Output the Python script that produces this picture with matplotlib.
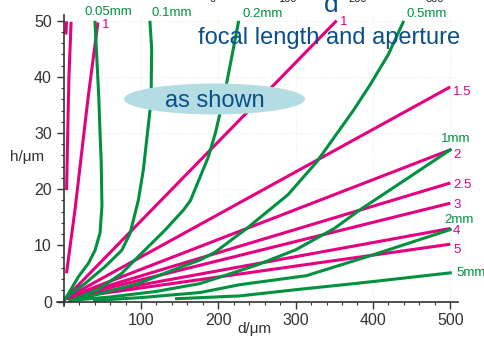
import matplotlib
matplotlib.use("Agg")
import matplotlib.pyplot as plt
from matplotlib.patches import Ellipse
from matplotlib.ticker import MultipleLocator

plt.rcParams['font.family'] = ['Liberation Sans', 'DejaVu Sans']

PINK = '#e4007f'
GREEN = '#009140'
BLUE = '#0b4f8a'

# ---- pink lines (aperture values) : end point (d, h); start near origin ----
pink_labels = ['1', '1.5', '2', '2.5', '3', '4', '5']
pink_end_d = [353, 500, 500, 500, 500, 500, 500]
pink_end_h = [50.0, 38.2, 27.0, 21.1, 17.5, 13.0, 10.2]
pink_start = (1.7, 0.5)

# steep pink curves at the left
pinkA_d = [3.8, 5.2, 6.8, 9.5]
pinkA_h = [20.1, 30.0, 40.0, 49.5]
pinkA2_d = [3.0, 3.6]
pinkA2_h = [47.8, 49.6]
pinkB_d = [3.9, 14.6, 31.4, 44.0]
pinkB_h = [5.3, 16.3, 36.1, 49.4]

# ---- green curves (focal lengths) ----
g005_d = [1.5, 10, 19, 32, 40.5, 47, 49.5, 48.5, 47, 45.5, 43, 40.5]
g005_h = [0.3, 2.3, 4.4, 6.8, 9.1, 12.2, 17, 25, 30, 36, 43, 49.7]
g01_d = [2, 27.6, 53.4, 75, 85.8, 96.5, 103, 111.6, 113, 113.8, 111.6]
g01_h = [0.6, 3.2, 6.2, 9.1, 12.1, 18, 23.4, 34, 36, 45, 49.7]
g02_d = [12, 45, 75, 96.5, 131, 155, 164, 187, 196, 200, 209, 226]
g02_h = [0.3, 2.2, 5.0, 8.0, 12.7, 16.3, 18, 25.7, 29.9, 32.2, 37.6, 49.7]
g05_d = [10, 31.8, 96.5, 152.6, 176.5, 196, 236.7, 290, 327, 374.6, 396, 420, 439]
g05_h = [0.2, 0.85, 3.2, 6.2, 7.4, 8.8, 13, 19, 24.8, 34, 38.5, 44, 49.7]
g1_d = [8, 60, 120, 176.5, 250, 300, 350, 383, 440, 500]
g1_h = [0.2, 0.8, 1.8, 3.2, 6.5, 9.2, 13, 16.3, 21.5, 27]
g2_d = [40, 100, 176.5, 228, 314, 400, 500]
g2_h = [0.2, 0.7, 1.6, 3.0, 4.6, 8.3, 12.8]
g5_d = [146, 228, 300, 383.6, 500]
g5_h = [0.5, 1.0, 2.1, 3.3, 5.1]

green_labels = ['0.05mm', '0.1mm', '0.2mm', '0.5mm', '1mm', '2mm', '5mm']

fig = plt.figure(figsize=(4.85, 3.38), dpi=100)
ax = fig.add_axes([57.5 / 485, 1 - 306 / 338, 400.5 / 485, 291 / 338])
ax.set_xlim(-8, 510)
ax.set_ylim(-0.8, 51)

lw = 2.2
for ed, eh in zip(pink_end_d, pink_end_h):
    ax.plot([pink_start[0], ed], [pink_start[1], eh], color=PINK, lw=lw, solid_capstyle='butt')
ax.plot(pinkA_d, pinkA_h, color=PINK, lw=lw)
ax.plot(pinkA2_d, pinkA2_h, color=PINK, lw=lw)
ax.plot(pinkB_d, pinkB_h, color=PINK, lw=lw)

for dd, hh in [(g005_d, g005_h), (g01_d, g01_h), (g02_d, g02_h), (g05_d, g05_h),
               (g1_d, g1_h), (g2_d, g2_h), (g5_d, g5_h)]:
    ax.plot(dd, hh, color=GREEN, lw=lw)

# spines Maple-like
for s in ['top', 'right']:
    ax.spines[s].set_visible(False)
ax.spines['left'].set_position(('data', 0))
ax.spines['bottom'].set_position(('data', 0))
for s in ['left', 'bottom']:
    ax.spines[s].set_color('#333333')
    ax.spines[s].set_linewidth(1.2)
ax.xaxis.set_major_locator(MultipleLocator(100))
ax.xaxis.set_minor_locator(MultipleLocator(20))
ax.yaxis.set_major_locator(MultipleLocator(10))
ax.yaxis.set_minor_locator(MultipleLocator(2))
ax.tick_params(which='major', length=5, width=1.0, color='#333333', labelsize=11.5, labelcolor='#333333')
ax.tick_params(which='minor', length=2.5, width=0.8, color='#333333')
ax.set_xticks([100, 200, 300, 400, 500])
ax.set_yticks([0, 10, 20, 30, 40, 50])
ax.grid(True, which='major', color='#e6e6e6', linestyle=':', linewidth=0.6)

fig.text(10 / 485, 1 - 157 / 338, 'h/\u03bcm', fontsize=11, color='#333333', va='center', ha='left')
fig.text(254 / 485, 1 - 329 / 338, 'd/\u03bcm', fontsize=11, color='#333333', va='center', ha='center')

# curve labels
lab_fs = 9.5
gpos = [(85, 12), (152, 13), (243, 14), (407, 14), (441, 139), (444, 220), (456, 273)]
for t, (x, y) in zip(green_labels, gpos):
    fig.text(x / 485, 1 - y / 338, t, fontsize=lab_fs, color=GREEN, ha='left', va='center')
ppos = [(340, 22), (453, 92), (453, 155), (453, 185), (453, 205), (453, 231), (453, 250)]
for t, (x, y) in zip(pink_labels, ppos):
    fig.text(x / 485, 1 - y / 338, t, fontsize=lab_fs, color=PINK, ha='left', va='center')
fig.text(102 / 485, 1 - 25 / 338, '1', fontsize=lab_fs, color=PINK, ha='left', va='center')

# annotation texts
fig.text(329 / 485, 1 - 38 / 338, 'focal length and aperture', fontsize=17, color=BLUE,
         ha='center', va='center', zorder=10)
ell = Ellipse((214.5 / 485, 1 - 99 / 338), 181 / 485, 31 / 338, transform=fig.transFigure,
              facecolor='#b3dde2', edgecolor='none', zorder=5)
fig.add_artist(ell)
fig.text(215 / 485, 1 - 101 / 338, 'as shown', fontsize=17, color=BLUE, ha='center', va='center', zorder=10)

# clipped remnants of text above the picture
fig.text(331 / 485, 1 - 12 / 338, 'd', fontsize=19, color=BLUE, ha='center', va='baseline')
for t, x in [('0', 213), ('100', 287), ('200', 358), ('300', 435)]:
    fig.text(x / 485, 1 - 2 / 338, t, fontsize=8, color='#222222', ha='center', va='baseline')

fig.savefig('out.png', dpi=100)
